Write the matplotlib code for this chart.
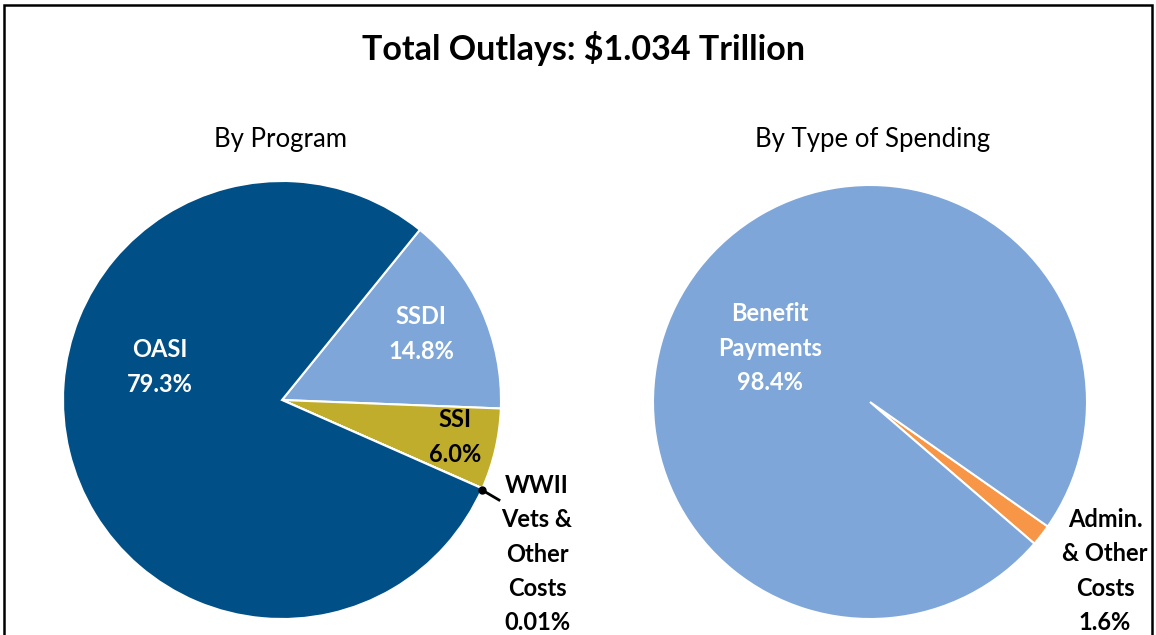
import matplotlib
matplotlib.use("Agg")
import matplotlib.pyplot as plt
from matplotlib.patches import Rectangle

plt.rcParams['font.family'] = ['Lato', 'DejaVu Sans']

# Data
title = "Total Outlays: $1.034 Trillion"
program_labels = ["SSDI", "SSI", "WWII Vets & Other Costs", "OASI"]
program_values = [14.8, 6.0, 0.01, 79.3]
program_colors = ["#7ea6d8", "#c0ad2b", "#000000", "#004f86"]
program_texts = ["SSDI\n14.8%", "SSI\n6.0%", "WWII\nVets &\nOther\nCosts\n0.01%", "OASI\n79.3%"]

spend_labels = ["Admin. & Other Costs", "Benefit Payments"]
spend_values = [1.6, 98.4]
spend_colors = ["#f79646", "#7ea6d8"]
spend_texts = ["Admin.\n& Other\nCosts\n1.6%", "Benefit\nPayments\n98.4%"]

W, H = 1156, 635
fig = plt.figure(figsize=(W / 100, H / 100), dpi=100)
ax = fig.add_axes([0, 0, 1, 1])

def Y(py):
    return H - py

wp = dict(edgecolor="white", linewidth=1.5)
ax.pie(program_values, colors=program_colors, startangle=51, counterclock=False,
       center=(282, Y(400)), radius=219, wedgeprops=wp, frame=True)
ax.pie(spend_values, colors=spend_colors, startangle=-35, counterclock=False,
       center=(870, Y(402)), radius=217, wedgeprops=wp, frame=True)

ax.set_xlim(0, W)
ax.set_ylim(0, H)
ax.set_aspect("equal")
ax.axis("off")

# border
ax.add_patch(Rectangle((4, -10), 1148, Y(5) + 10, fill=False, edgecolor="black", linewidth=1.8))

ax.text(583, Y(49), title, ha="center", va="center", fontsize=24.5, fontweight="bold")
ax.text(280, Y(140), "By Program", ha="center", va="center", fontsize=18.5)
ax.text(873, Y(140), "By Type of Spending", ha="center", va="center", fontsize=18.5)

lab = dict(ha="center", va="center", fontsize=17, fontweight="bold", linespacing=1.58)
ax.text(160, Y(367), program_texts[3], color="white", **lab)
ax.text(421, Y(334), program_texts[0], color="white", **lab)
ax.text(455, Y(437), program_texts[1], color="black", **lab)
ax.text(537, Y(554), program_texts[2], color="black", **lab)
ax.text(770, Y(348), spend_texts[1], color="white", **lab)
ax.text(1105, Y(571), spend_texts[0], color="black", **lab)

# leader line for WWII
ax.plot([482, 499], [Y(490), Y(500)], color="black", linewidth=2)
ax.plot([482], [Y(490)], marker="o", color="black", markersize=5)

fig.savefig("out.png", dpi=100)
